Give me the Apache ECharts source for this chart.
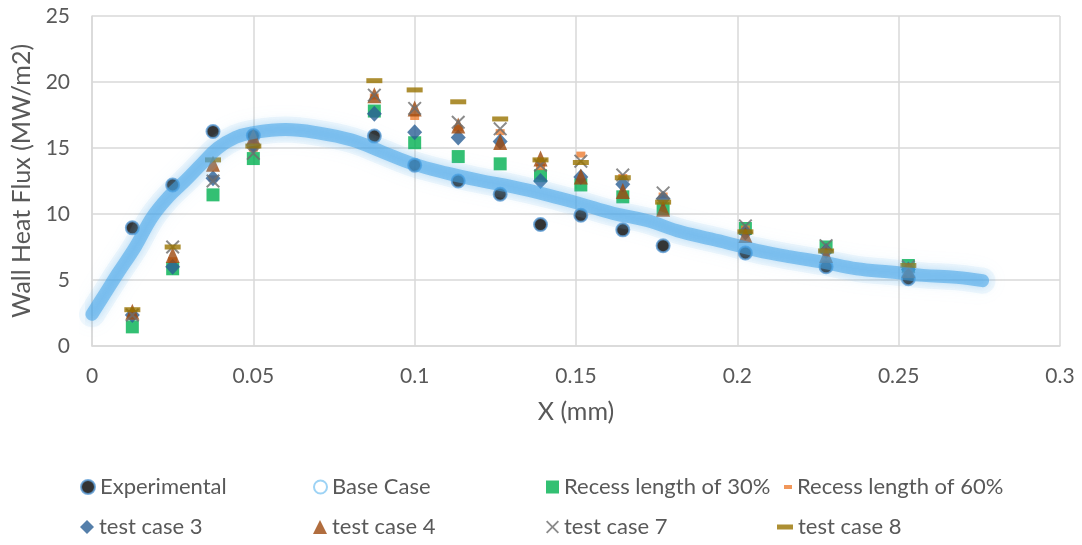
<!DOCTYPE html>
<html><head><meta charset="utf-8">
<script src="https://cdn.jsdelivr.net/npm/echarts@6/dist/echarts.min.js"></script>
<style>html,body{margin:0;padding:0;background:#fff}#c{width:1082px;height:545px}</style>
</head><body><div id="c"></div>
<script>
const xTicks = [0, 0.05, 0.1, 0.15, 0.2, 0.25, 0.3];
const xs = [0.0125,0.025,0.0375,0.05,0.0875,0.1,0.1135,0.1265,0.139,0.1515,0.1645,0.177,0.2025,0.2275,0.253];
const experimental = [8.95,12.2,16.25,15.95,15.9,13.7,12.5,11.5,9.2,9.9,8.8,7.6,7.05,6.0,5.1];
const recess30 = [1.45,5.85,11.45,14.2,17.8,15.4,14.35,13.8,12.9,12.2,11.3,10.4,8.9,7.5,6.1];
const recess60 = [2.5,6.5,12.7,14.95,18.9,17.35,16.5,16.2,13.55,14.5,12.8,11.4,8.9,7.3,5.9];
const tc3 = [2.35,6.0,12.7,15.2,17.6,16.2,15.8,15.5,12.5,12.8,12.25,11.15,8.6,7.2,5.8];
const tc4 = [2.6,6.9,13.8,15.85,19.0,18.0,16.7,15.45,14.2,12.85,11.75,10.4,8.4,6.9,5.75];
const tc7 = [2.35,7.5,12.5,14.6,19.0,18.0,16.95,16.45,13.7,14.0,12.95,11.6,9.1,7.6,6.0];
const tc8 = [2.75,7.5,14.1,15.15,20.1,19.4,18.5,17.2,14.1,13.9,12.75,10.9,8.65,7.2,6.1];
const baseX = [0,0.004,0.008,0.0134,0.0186,0.0237,0.029,0.034,0.039,0.0445,0.0495,0.06,0.07,0.0805,0.09,0.0995,0.11,0.12,0.1305,0.141,0.151,0.1615,0.172,0.1825,0.1955,0.206,0.2165,0.2265,0.237,0.2475,0.2575,0.268,0.276];
const baseY = [2.4,3.95,5.5,7.5,9.75,11.3,12.55,13.8,15.0,15.8,16.15,16.4,16.15,15.6,14.7,13.8,13.1,12.55,12.05,11.45,10.8,10.05,9.5,8.65,7.9,7.25,6.75,6.35,5.85,5.6,5.35,5.2,4.95];

const FONT = 'Lato';
const TXT = '#595959';
const pair = (a, b) => a.map((v, i) => [v, b[i]]);
const XPATH = 'path://M1,0 L5,4 L9,0 L10,1 L6,5 L10,9 L9,10 L5,6 L1,10 L0,9 L4,5 L0,1 Z';

function lg(name, left, top, extra) {
  return Object.assign({
    data: [name], left: left, top: top, itemWidth: 14, itemHeight: 14,
    textStyle: {fontSize: 22, color: TXT, fontFamily: FONT}, selectedMode: false, padding: 0
  }, extra || {});
}

const chart = echarts.init(document.getElementById('c'));
chart.setOption({
  animation: false,
  grid: {left: 92, right: 22, top: 16, bottom: 199},
  xAxis: {
    type: 'value', min: 0, max: 0.3, interval: 0.05,
    name: 'X (mm)', nameLocation: 'middle', nameGap: 53,
    nameTextStyle: {fontSize: 25, color: TXT, fontFamily: FONT},
    axisLine: {lineStyle: {color: '#d9d9d9', width: 1.5}},
    axisTick: {show: false},
    splitLine: {show: true, lineStyle: {color: '#d9d9d9', width: 1.5}},
    axisLabel: {fontSize: 21, color: TXT, fontFamily: FONT, margin: 20,
      formatter: v => { const t = xTicks.find(k => Math.abs(k - v) < 1e-9); return t === undefined ? '' : String(t); }}
  },
  yAxis: {
    type: 'value', min: 0, max: 25, interval: 5,
    name: 'Wall Heat Flux (MW/m2)', nameLocation: 'middle', nameGap: 56,
    nameTextStyle: {fontSize: 25, color: TXT, fontFamily: FONT},
    axisLine: {show: true, lineStyle: {color: '#d9d9d9', width: 1.5}},
    axisTick: {show: false},
    splitLine: {show: true, lineStyle: {color: '#d9d9d9', width: 1.5}},
    axisLabel: {fontSize: 21, color: TXT, fontFamily: FONT, margin: 22}
  },
  legend: [
    lg('Experimental', 80, 476),
    lg({name: 'Base Case', icon: 'circle', itemStyle: {color: '#ffffff', borderColor: '#9DD3F5', borderWidth: 2}}, 313, 476, {itemWidth: 13, itemHeight: 13}),
    lg('Recess length of 30%', 546, 476, {itemWidth: 13, itemHeight: 13}),
    lg('Recess length of 60%', 784, 476, {itemWidth: 8, itemHeight: 4}),
    lg('test case 3', 80, 516),
    lg('test case 4', 313, 516),
    lg('test case 7', 546, 516, {itemWidth: 13, itemHeight: 13}),
    lg('test case 8', 777, 516, {itemWidth: 16, itemHeight: 5})
  ],
  series: [
    {name: 'Experimental', type: 'scatter', data: pair(xs, experimental), symbol: 'circle', symbolSize: 13,
      itemStyle: {color: '#000000', borderColor: '#5B9BD5', borderWidth: 2}},
    {name: 'Base Case', type: 'line', data: pair(baseX, baseY), smooth: 0.4, symbol: 'none', showSymbol: false,
      lineStyle: {width: 26, color: 'rgba(120,190,240,0.10)', shadowBlur: 18, shadowColor: 'rgba(120,190,240,0.45)', cap: 'round'},
      itemStyle: {color: '#9DD3F5'}},
    {name: 'Base Case', type: 'line', data: pair(baseX, baseY), smooth: 0.4, symbol: 'none', showSymbol: false,
      lineStyle: {width: 13, color: 'rgba(66,163,232,0.55)', shadowBlur: 10, shadowColor: 'rgba(66,163,232,0.6)', cap: 'round'},
      itemStyle: {color: '#9DD3F5'}},
    {name: 'Recess length of 30%', type: 'scatter', data: pair(xs, recess30), symbol: 'rect', symbolSize: 13,
      itemStyle: {color: '#00B050'}},
    {name: 'Recess length of 60%', type: 'scatter', data: pair(xs, recess60), symbol: 'rect', symbolSize: [9, 6],
      itemStyle: {color: '#ED7D31'}},
    {name: 'test case 3', type: 'scatter', data: pair(xs, tc3), symbol: 'diamond', symbolSize: [15, 16],
      itemStyle: {color: '#2A5F95'}},
    {name: 'test case 4', type: 'scatter', data: pair(xs, tc4), symbol: 'triangle', symbolSize: [14, 16],
      itemStyle: {color: '#9E480E'}},
    {name: 'test case 7', type: 'scatter', data: pair(xs, tc7), symbol: XPATH, symbolSize: 14,
      itemStyle: {color: '#6E6E6E'}},
    {name: 'test case 8', type: 'scatter', data: pair(xs, tc8), symbol: 'rect', symbolSize: [16, 5],
      itemStyle: {color: '#997300'}}
  ]
});
</script></body></html>
